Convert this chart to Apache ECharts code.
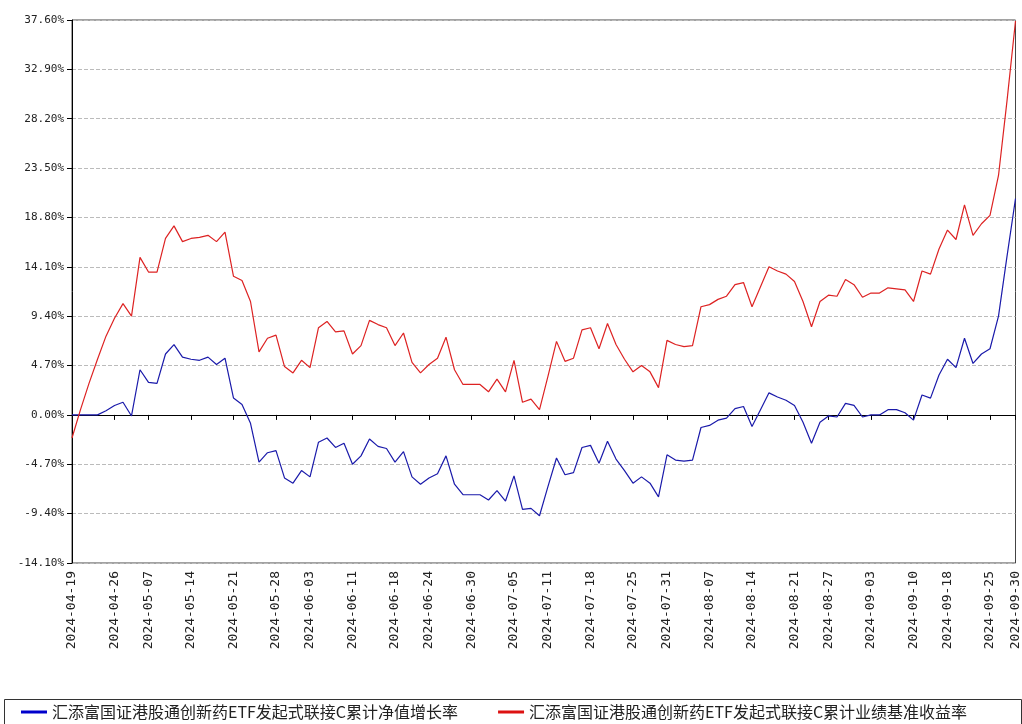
<!DOCTYPE html>
<html>
<head>
<meta charset="utf-8">
<script src="https://cdn.jsdelivr.net/npm/echarts@6/dist/echarts.min.js"></script>
<style>html,body{margin:0;padding:0;background:#fff}#chart{width:1022px;height:724px}</style>
</head>
<body>
<div id="chart"></div>
<script>
var dates = [
  '2024-04-19','2024-04-22','2024-04-23','2024-04-24','2024-04-25','2024-04-26','2024-04-29','2024-04-30',
  '2024-05-06','2024-05-07','2024-05-08','2024-05-09','2024-05-10','2024-05-13','2024-05-14','2024-05-15','2024-05-16','2024-05-17',
  '2024-05-20','2024-05-21','2024-05-22','2024-05-23','2024-05-24','2024-05-27','2024-05-28','2024-05-29','2024-05-30','2024-05-31',
  '2024-06-03','2024-06-04','2024-06-05','2024-06-06','2024-06-07','2024-06-11','2024-06-12','2024-06-13','2024-06-14',
  '2024-06-17','2024-06-18','2024-06-19','2024-06-20','2024-06-21','2024-06-24','2024-06-25','2024-06-26','2024-06-27','2024-06-28','2024-06-30',
  '2024-07-01','2024-07-02','2024-07-03','2024-07-04','2024-07-05','2024-07-08','2024-07-09','2024-07-10','2024-07-11','2024-07-12',
  '2024-07-15','2024-07-16','2024-07-17','2024-07-18','2024-07-19','2024-07-22','2024-07-23','2024-07-24','2024-07-25','2024-07-26',
  '2024-07-29','2024-07-30','2024-07-31','2024-08-01','2024-08-02','2024-08-05','2024-08-06','2024-08-07','2024-08-08','2024-08-09',
  '2024-08-12','2024-08-13','2024-08-14','2024-08-15','2024-08-16','2024-08-19','2024-08-20','2024-08-21','2024-08-22','2024-08-23',
  '2024-08-26','2024-08-27','2024-08-28','2024-08-29','2024-08-30','2024-09-02','2024-09-03','2024-09-04','2024-09-05','2024-09-06',
  '2024-09-09','2024-09-10','2024-09-11','2024-09-12','2024-09-13','2024-09-18','2024-09-19','2024-09-20',
  '2024-09-23','2024-09-24','2024-09-25','2024-09-26','2024-09-27','2024-09-30'
];
var labelDates = ['2024-04-19','2024-04-26','2024-05-07','2024-05-14','2024-05-21','2024-05-28','2024-06-03','2024-06-11',
  '2024-06-18','2024-06-24','2024-06-30','2024-07-05','2024-07-11','2024-07-18','2024-07-25','2024-07-31','2024-08-07',
  '2024-08-14','2024-08-21','2024-08-27','2024-09-03','2024-09-10','2024-09-18','2024-09-25','2024-09-30'];

// 累计净值增长率
var navGrowth = [0,0,0,0,0.4,0.9,1.2,-0.1,4.3,3.1,3.0,5.8,6.7,5.5,5.3,5.2,5.5,4.8,5.4,1.6,1.0,-0.8,-4.5,-3.6,-3.4,-6.0,-6.5,-5.3,-5.9,-2.6,
  -2.2,-3.1,-2.7,-4.7,-3.9,-2.3,-3.0,-3.2,-4.5,-3.5,-5.9,-6.6,-6.0,-5.6,-3.9,-6.6,-7.6,-7.6,-7.6,-8.1,-7.2,-8.2,-5.8,-9.0,
  -8.9,-9.6,-6.8,-4.1,-5.7,-5.5,-3.1,-2.9,-4.6,-2.5,-4.2,-5.3,-6.5,-5.9,-6.5,-7.8,-3.8,-4.3,-4.4,-4.3,-1.2,-1.0,-0.5,-0.3,
  0.6,0.8,-1.1,0.5,2.1,1.7,1.4,0.9,-0.7,-2.7,-0.7,-0.1,-0.2,1.1,0.9,-0.2,0.0,0.0,0.5,0.5,0.2,-0.5,1.9,1.6,3.8,5.3,4.5,7.3,
  4.9,5.8,6.3,9.4,15.1,20.6];
// 累计业绩基准收益率
var benchmark = [-2.2,0.5,3.0,5.3,7.5,9.2,10.6,9.4,15.0,13.6,13.6,16.8,18.0,16.5,16.8,16.9,17.1,16.5,17.4,13.2,12.8,10.8,6.0,7.3,7.6,4.6,4.0,5.2,4.5,8.3,
  8.9,7.9,8.0,5.8,6.6,9.0,8.6,8.3,6.6,7.8,5.0,4.0,4.8,5.4,7.4,4.3,2.9,2.9,2.9,2.2,3.4,2.2,5.2,1.2,
  1.5,0.5,3.7,7.0,5.1,5.4,8.1,8.3,6.3,8.7,6.7,5.3,4.1,4.7,4.1,2.6,7.1,6.7,6.5,6.6,10.3,10.5,11.0,11.3,
  12.4,12.6,10.3,12.2,14.1,13.7,13.4,12.7,10.8,8.4,10.8,11.4,11.3,12.9,12.4,11.2,11.6,11.6,12.1,12.0,11.9,10.8,13.7,13.4,15.8,17.6,16.7,20.0,
  17.1,18.2,19.0,22.8,29.9,37.5];

var showLabel = function (idx, val) { return labelDates.indexOf(val) >= 0; };
var chart = echarts.init(document.getElementById('chart'));
var option = {
  animation: false,
  graphic: [{type: 'rect', left: 2, top: 697, shape: {width: 1017, height: 30}, style: {fill: 'none', stroke: '#333', lineWidth: 1}}],
  grid: {left: 72, right: 2, top: 20, bottom: 161, show: true, borderColor: '#444', borderWidth: 1},
  legend: {
    top: 699, left: 16,
    itemWidth: 26, itemHeight: 3, itemGap: 40, icon: 'rect',
    textStyle: {fontSize: 16, color: '#222', fontFamily: 'Noto Sans CJK SC'},
    data: ['汇添富国证港股通创新药ETF发起式联接C累计净值增长率', '汇添富国证港股通创新药ETF发起式联接C累计业绩基准收益率']
  },
  xAxis: {
    type: 'category', boundaryGap: false, data: dates,
    axisLine: {lineStyle: {color: '#000'}},
    axisTick: {interval: showLabel, length: 5, lineStyle: {color: '#000'}},
    axisLabel: {interval: showLabel, rotate: 90, fontSize: 13, color: '#222', fontFamily: 'DejaVu Sans Mono', margin: 8},
    splitLine: {show: false}
  },
  yAxis: {
    type: 'value', min: -14.1, max: 37.6, interval: 4.7,
    axisLine: {show: true, lineStyle: {color: '#000'}},
    axisTick: {show: true, length: 5, lineStyle: {color: '#000'}},
    axisLabel: {fontSize: 11, color: '#222', fontFamily: 'DejaVu Sans Mono', formatter: function (v) { return v.toFixed(2) + '%'; }},
    splitLine: {lineStyle: {color: '#bbb', type: 'dashed'}}
  },
  series: [
    {name: '汇添富国证港股通创新药ETF发起式联接C累计净值增长率', type: 'line', data: navGrowth, showSymbol: false,
      itemStyle: {color: '#0000cc'}, lineStyle: {color: '#1a1aaa', width: 1.2}},
    {name: '汇添富国证港股通创新药ETF发起式联接C累计业绩基准收益率', type: 'line', data: benchmark, showSymbol: false,
      itemStyle: {color: '#dd1111'}, lineStyle: {color: '#dd2222', width: 1.2}}
  ]
};
chart.setOption(option);
</script>
</body>
</html>
